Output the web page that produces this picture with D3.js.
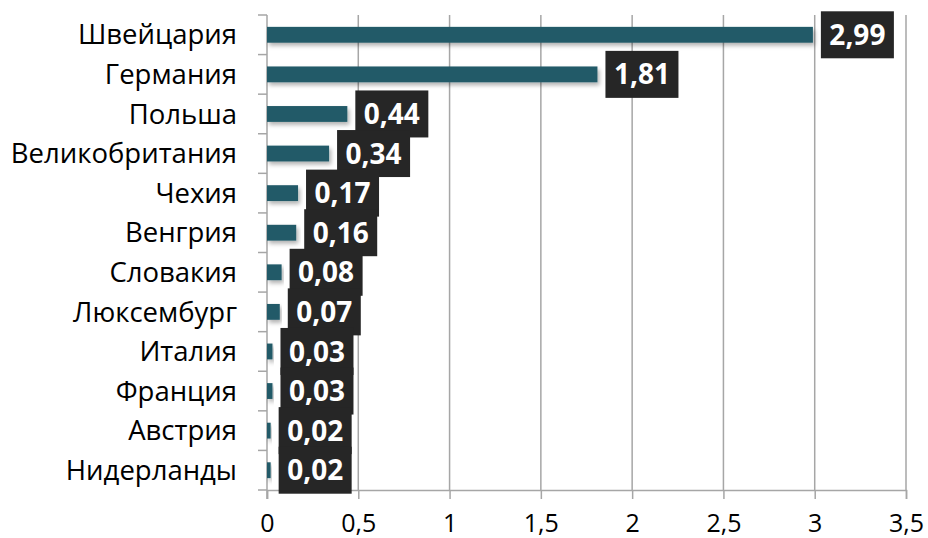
<html>
<head>
<meta charset="utf-8">
<style>
  body { margin: 0; background: white; font-family: "Open Sans", sans-serif; }
  .grid line { stroke: #a6a6a6; stroke-width: 1.5; }
  .axis path, .axis line { stroke: #a6a6a6; stroke-width: 1.5; fill: none; }
  .axis text { font-family: "Open Sans", sans-serif; fill: #000; }
</style>
</head>
<body>
<div id="chart"></div>
<script src="https://cdnjs.cloudflare.com/ajax/libs/d3/7.8.5/d3.min.js"></script>
<script>
// данные
var countries = ["Швейцария", "Германия", "Польша", "Великобритания", "Чехия", "Венгрия",
                 "Словакия", "Люксембург", "Италия", "Франция", "Австрия", "Нидерланды"];
var values = [2.99, 1.81, 0.44, 0.34, 0.17, 0.16, 0.08, 0.07, 0.03, 0.03, 0.02, 0.02];
var xTicks = [0, 0.5, 1, 1.5, 2, 2.5, 3, 3.5];

var fullWidth = 928, fullHeight = 538;
var margin = {top: 15, right: 22, bottom: 48, left: 267};
var width = fullWidth - margin.left - margin.right;
var height = fullHeight - margin.top - margin.bottom;

var svg = d3.select("#chart").append("svg")
    .attr("width", fullWidth)
    .attr("height", fullHeight);

var defs = svg.append("defs");
var f = defs.append("filter").attr("id", "shadow")
    .attr("x", "-5%").attr("y", "-40%").attr("width", "120%").attr("height", "200%");
f.append("feDropShadow").attr("dx", 2).attr("dy", 3).attr("stdDeviation", 2)
    .attr("flood-color", "#000").attr("flood-opacity", 0.3);

var g = svg.append("g").attr("transform", "translate(" + margin.left + "," + margin.top + ")");

var x = d3.scaleLinear().domain([0, 3.5]).range([0, width]);
var y = d3.scaleBand().domain(countries).range([0, height]).paddingInner(0.6).paddingOuter(0.3);
var yb = d3.scaleBand().domain(countries).range([0, height]);

// сетка
g.append("g").attr("class", "grid")
  .selectAll("line").data(xTicks.slice(1)).enter().append("line")
    .attr("x1", function(d) { return x(d); }).attr("x2", function(d) { return x(d); })
    .attr("y1", 0).attr("y2", height);

// ось X
g.append("g").attr("class", "axis")
  .attr("transform", "translate(0," + height + ")")
  .call(d3.axisBottom(x).tickValues(xTicks).tickSize(9).tickPadding(15)
        .tickFormat(function(d) { return String(d).replace(".", ","); }))
  .call(function(a) { a.selectAll("text").attr("font-size", "25px"); });

// ось Y (риски на границах категорий)
var yAxisG = g.append("g").attr("class", "axis");
yAxisG.append("line").attr("x1", 0).attr("x2", 0).attr("y1", 0).attr("y2", height + 9);
yAxisG.selectAll("line.tk").data(d3.range(countries.length + 1)).enter().append("line")
    .attr("class", "tk")
    .attr("x1", -9).attr("x2", 0)
    .attr("y1", function(i) { return i * yb.step(); })
    .attr("y2", function(i) { return i * yb.step(); });
yAxisG.selectAll("text").data(countries).enter().append("text")
    .attr("x", -30)
    .attr("y", function(d) { return yb(d) + yb.bandwidth() / 2; })
    .attr("dy", "0.35em")
    .attr("text-anchor", "end")
    .attr("font-size", "27.5px")
    .text(function(d) { return d; });

// столбики
g.selectAll("rect.bar").data(values).enter().append("rect")
    .attr("class", "bar")
    .attr("x", 0)
    .attr("y", function(d, i) { return y(countries[i]); })
    .attr("width", function(d) { return x(d); })
    .attr("height", y.bandwidth())
    .attr("fill", "#215a68")
    .attr("filter", "url(#shadow)");

// подписи
var lab = g.selectAll("g.lab").data(values).enter().append("g")
    .attr("class", "lab")
    .attr("transform", function(d, i) {
        return "translate(" + (x(d) + 8) + "," + (yb(countries[i]) + yb.bandwidth() / 2) + ")";
    });
lab.append("rect")
    .attr("x", 0).attr("y", -23.5)
    .attr("width", 73).attr("height", 47)
    .attr("fill", "#262626");
lab.append("text")
    .attr("x", 36.5).attr("y", 0).attr("dy", "0.36em")
    .attr("text-anchor", "middle")
    .attr("fill", "white")
    .attr("font-weight", "bold")
    .attr("font-size", "28px")
    .text(function(d) { return d.toFixed(2).replace(".", ","); });
</script>
</body>
</html>
